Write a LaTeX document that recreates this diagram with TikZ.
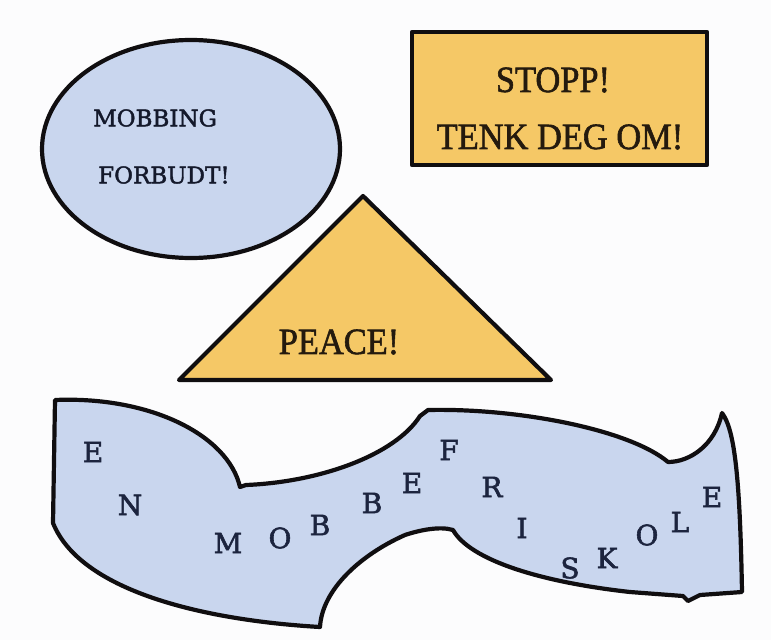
\documentclass[tikz,border=0pt]{standalone}
\usepackage{fontspec}
\setmainfont{Liberation Serif}
\newfontfamily\boxfont[FakeBold=1.6]{Liberation Serif}
\newfontfamily\dvs[FakeBold=1.8]{DejaVu Serif}
\newfontfamily\dvl[FakeBold=2]{DejaVu Serif}
\definecolor{bgc}{RGB}{252,252,253}
\definecolor{bluef}{RGB}{201,214,238}
\definecolor{yellowf}{RGB}{245,200,102}
\definecolor{ink}{RGB}{16,14,16}
\definecolor{navy}{RGB}{28,36,62}
\definecolor{brown}{RGB}{36,26,14}
\begin{document}
\begin{tikzpicture}[x=1pt,y=-1pt,
  outline/.style={draw=ink,line width=4.2pt,line join=round},
  boxtxt/.style={text=brown,font=\boxfont\fontsize{37}{40}\selectfont,inner sep=0pt,xscale=0.93},
  elltxt/.style={text=navy!70!black,font=\dvs\fontsize{23}{25}\selectfont,inner sep=0pt,anchor=west},
  lett/.style={text=navy,font=\dvl\fontsize{28}{30}\selectfont,inner sep=0pt}]
\fill[bgc] (0,0) rectangle (771,640);
\useasboundingbox (0,0) rectangle (771,640);
% ellipse
\draw[outline,fill=bluef] (191,149) ellipse [x radius=149,y radius=109];
\node[elltxt] (mob) at (93,118) {MOBBING};
\node[elltxt] (forb) at (98,175) {FORBUDT!};
% rectangle
\draw[outline,fill=yellowf] (412,32) rectangle (707,165);
\node[boxtxt] (stopp) at (553,80) {STOPP!};
\node[boxtxt] (tenk) at (560,137) {TENK DEG OM!};
% triangle
\draw[outline,fill=yellowf] (363,196) -- (551,380) -- (179,380) -- cycle;
\node[boxtxt] (peace) at (339,342) {PEACE!};
% blob
\draw[outline,fill=bluef]
  (55,400) .. controls (150,396) and (228,435) .. (240,487)
  -- (246,485) .. controls (320,482) and (395,455) .. (420,416)
  -- (428,410) .. controls (520,408) and (630,430) .. (668,462)
  .. controls (690,462) and (715,445) .. (722,413)
  .. controls (735,430) and (740,480) .. (742,592)
  -- (700,595) -- (688,601) -- (683,596)
  -- (630,592) .. controls (540,582) and (470,560) .. (453,530)
  .. controls (440,526) and (420,530) .. (405,535)
  .. controls (360,555) and (322,590) .. (320,627)
  .. controls (200,620) and (80,590) .. (53,523)
  -- cycle;
\node[lett] (l1) at (93,452) {E};
\node[lett] (l2) at (130,505) {N};
\node[lett] (l3) at (228,543) {M};
\node[lett] (l4) at (280,538) {O};
\node[lett] (l5) at (320,525) {B};
\node[lett] (l6) at (372,503) {B};
\node[lett] (l7) at (412,483) {E};
\node[lett] (l8) at (449,450) {F};
\node[lett] (l9) at (492,487) {R};
\node[lett] (l10) at (522,528) {I};
\node[lett] (l11) at (570,568) {S};
\node[lett] (l12) at (607,558) {K};
\node[lett] (l13) at (647,535) {O};
\node[lett] (l14) at (680,522) {L};
\node[lett] (l15) at (712,497) {E};
\end{tikzpicture}
\end{document}
